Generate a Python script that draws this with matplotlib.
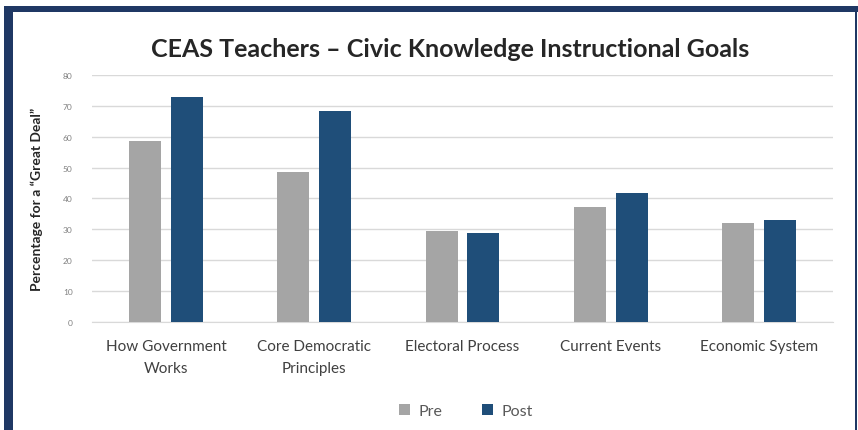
import matplotlib
matplotlib.use('Agg')
import matplotlib.pyplot as plt
import matplotlib.patches
import numpy as np

# colours
PRE_GRAY = '#a5a5a5'
POST_NAVY = '#1f4e79'
BORDER = '#1f3864'
GRID = '#d9d9d9'
TEXT = '#404040'

categories = ['How Government\nWorks', 'Core Democratic\nPrinciples',
              'Electoral Process', 'Current Events', 'Economic System']
pre_values = [58.5, 48.5, 29.5, 37.4, 31.9]
post_values = [72.8, 68.3, 28.8, 41.7, 33.1]
y_ticks = [0, 10, 20, 30, 40, 50, 60, 70, 80]

plt.rcParams['font.family'] = ['Lato', 'DejaVu Sans']

fig = plt.figure(figsize=(8.58, 4.31), dpi=100)
ax = fig.add_axes([0.1072, 0.2506, 0.8637, 0.5731])

x = np.arange(len(categories))
bar_w = 0.216
offset = 0.141
ax.bar(x - offset, pre_values, bar_w, color=PRE_GRAY, label='Pre', zorder=3)
ax.bar(x + offset, post_values, bar_w, color=POST_NAVY, label='Post', zorder=3)

ax.set_xlim(-0.5, len(categories) - 0.5)
ax.set_ylim(0, 80)
ax.set_yticks(y_ticks)
ax.set_yticklabels([str(t) for t in y_ticks], fontsize=6, color='#808080')
ax.set_xticks(x)
ax.set_xticklabels(categories, fontsize=11, color=TEXT, linespacing=1.75)
ax.tick_params(axis='both', length=0)
ax.tick_params(axis='x', pad=12)
ax.tick_params(axis='y', pad=14)
ax.grid(axis='y', color=GRID, linewidth=1, zorder=0)
for side in ['top', 'right', 'left']:
    ax.spines[side].set_visible(False)
ax.spines['bottom'].set_color(GRID)

ax.set_ylabel('Percentage for a \u201cGreat Deal\u201d', fontsize=10,
              fontweight='bold', color='#262626', labelpad=14)

fig.text(0.525, 0.885, 'CEAS Teachers \u2013 Civic Knowledge Instructional Goals',
         ha='center', va='center', fontsize=18, fontweight='bold', color='#262626')

leg = fig.legend(loc='center', bbox_to_anchor=(0.543, 0.045), ncol=2, frameon=False,
                 fontsize=11.5, handlelength=0.7, handleheight=0.7, columnspacing=2.5,
                 handletextpad=0.5)
for t in leg.get_texts():
    t.set_color('#595959')

# dark frame round the chart (no bottom edge visible in the crop)
h = 431.0
w = 858.0
fig.add_artist(matplotlib.patches.Rectangle((0.005, 1 - 13 / h), 0.995, 6 / h,
                                            transform=fig.transFigure, color=BORDER, lw=0))
fig.add_artist(matplotlib.patches.Rectangle((4 / w, 0), 9 / w, 1 - 7 / h,
                                            transform=fig.transFigure, color=BORDER, lw=0))
fig.add_artist(matplotlib.patches.Rectangle((855 / w, 0), 2 / w, 1 - 7 / h,
                                            transform=fig.transFigure, color=BORDER, lw=0))

fig.savefig('out.png', dpi=100)
